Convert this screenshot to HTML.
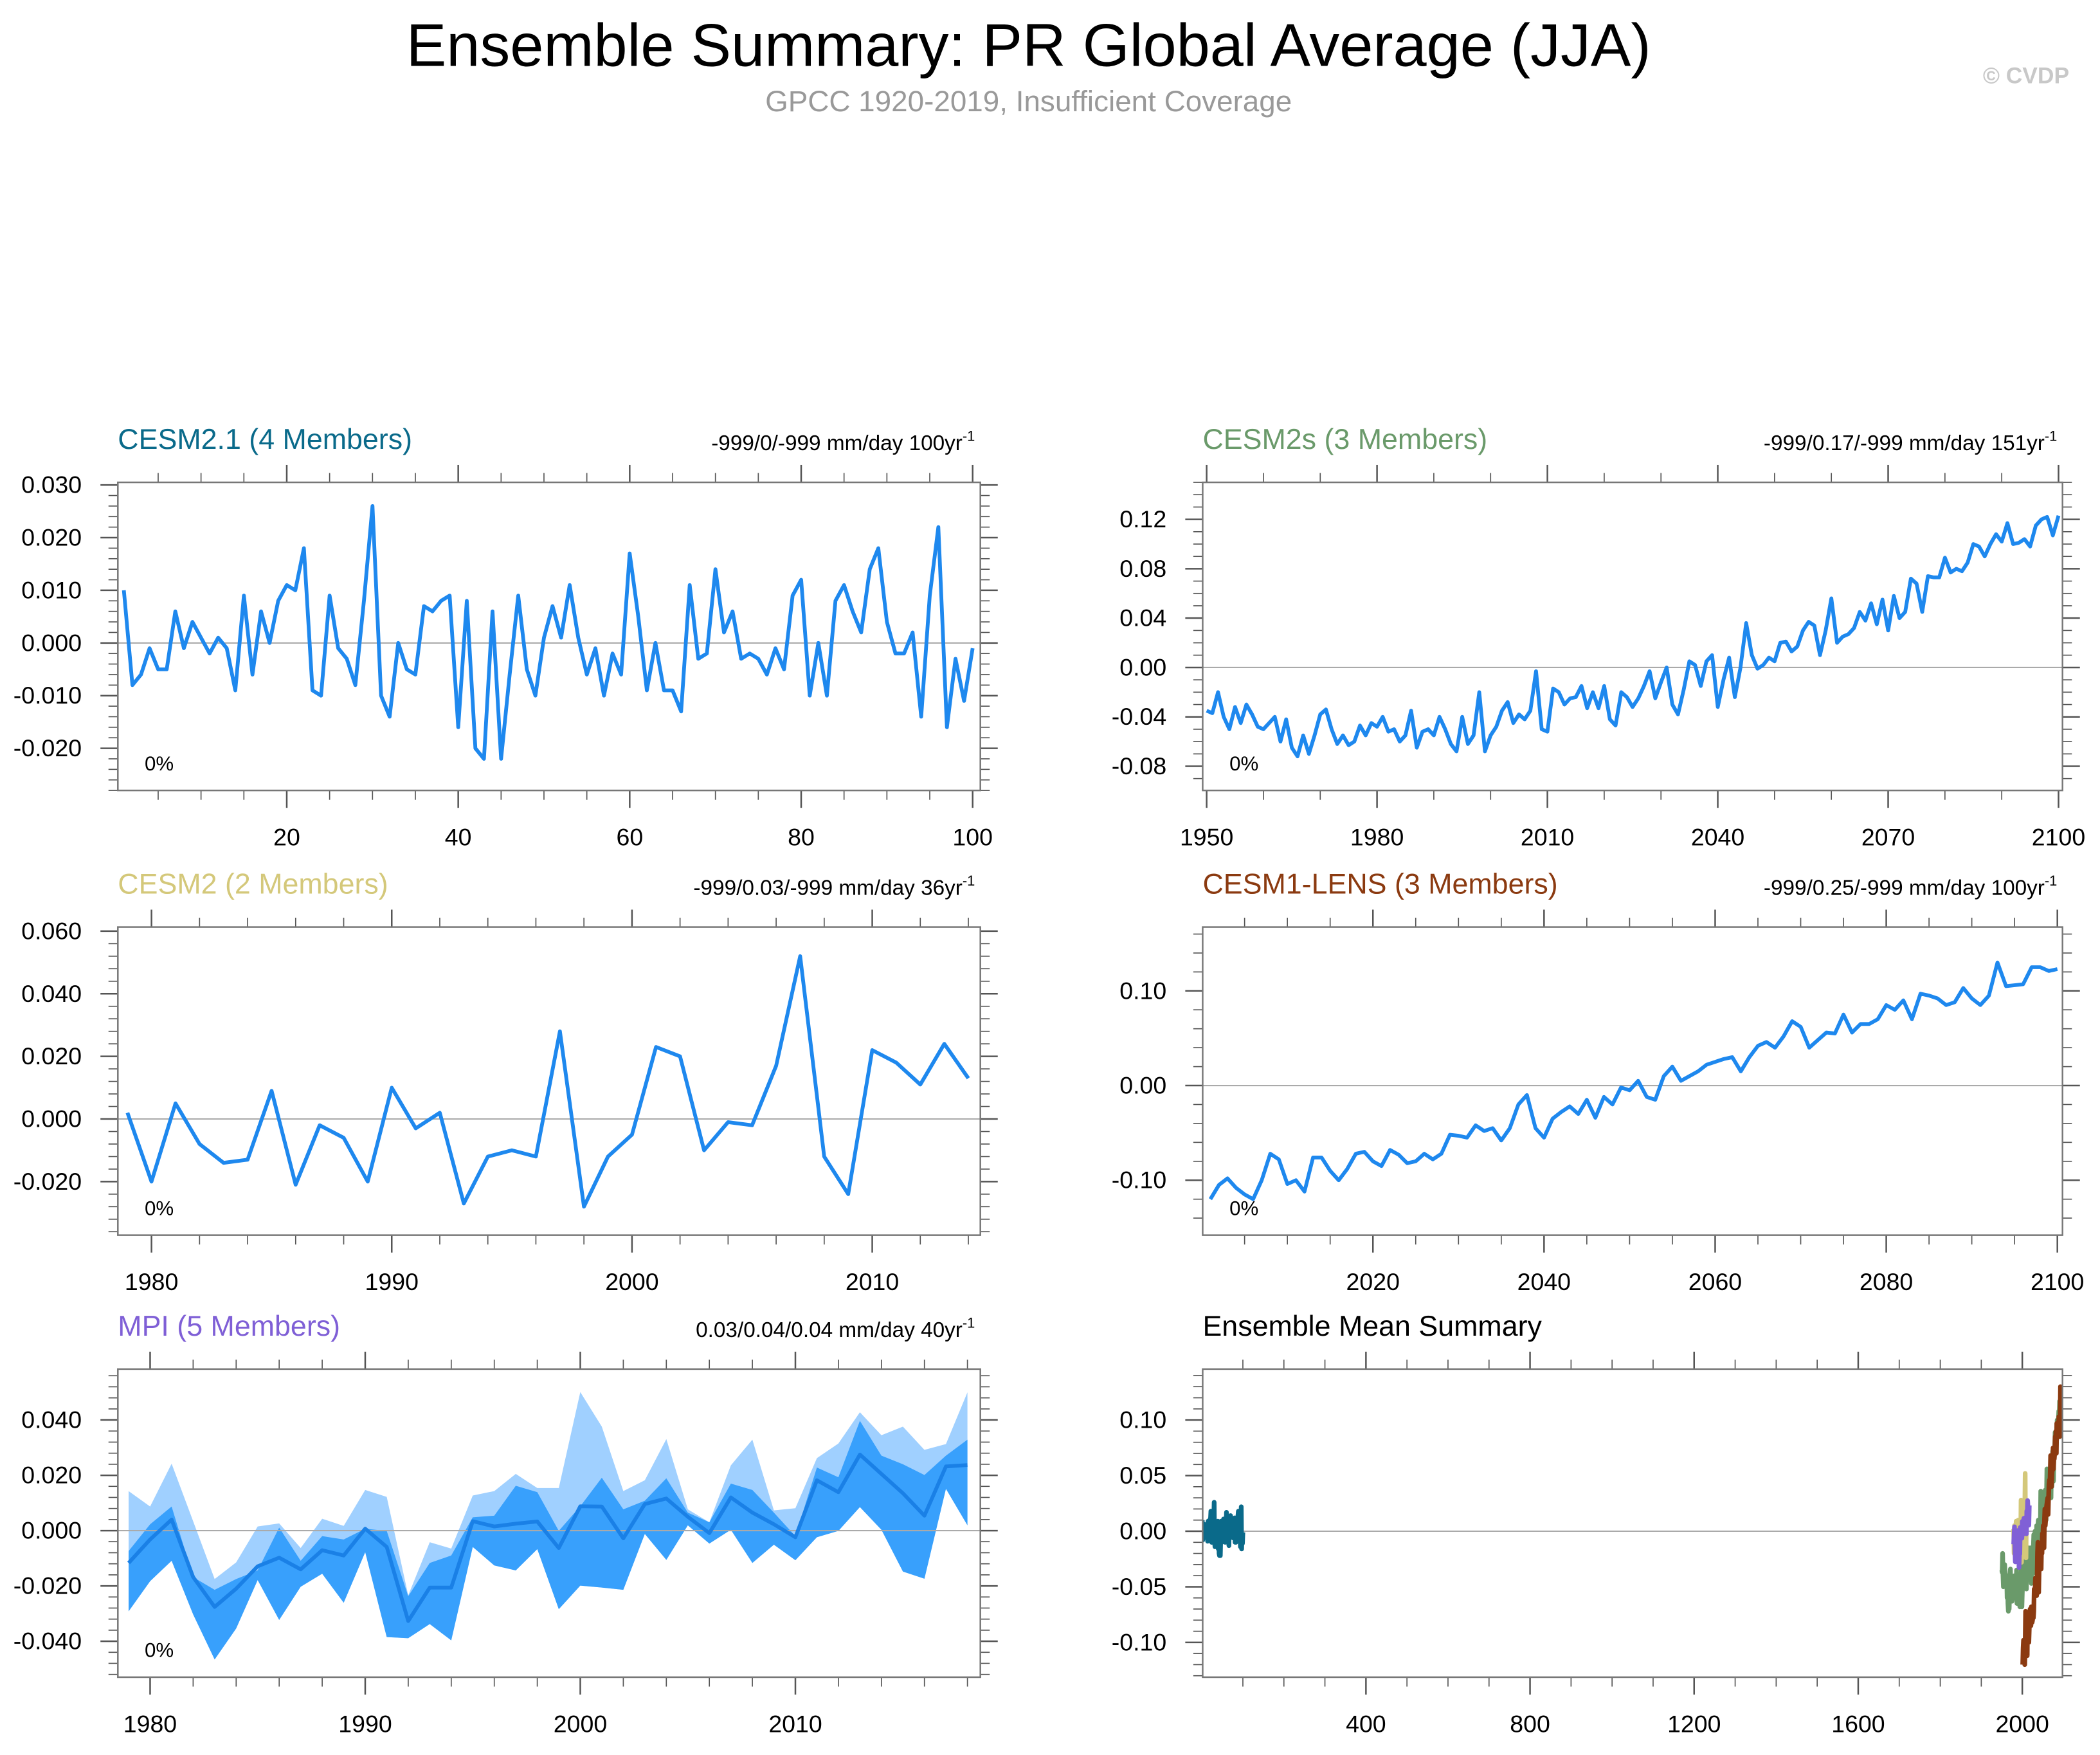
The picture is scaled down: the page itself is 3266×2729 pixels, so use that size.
<!DOCTYPE html>
<html><head><meta charset="utf-8"><style>
html,body{margin:0;padding:0;background:#fff}
svg{display:block}
text{font-family:"Liberation Sans",Arial,sans-serif}
</style></head><body>
<svg id="chart" width="3266" height="2729" viewBox="0 0 1568 1310" xmlns="http://www.w3.org/2000/svg">
<text x="768" y="49" font-size="45" text-anchor="middle" fill="#000">Ensemble Summary: PR Global Average (JJA)</text>
<text x="768" y="83" font-size="22" text-anchor="middle" fill="#999">GPCC 1920-2019, Insufficient Coverage</text>
<text x="1545" y="62" font-size="17" font-weight="bold" text-anchor="end" fill="#c8c8c8">© CVDP</text>
</svg>
<script>
const cesm21Values=[0.010,-0.008,-0.006,-0.001,-0.005,-0.005,0.006,-0.001,0.004,0.001,-0.002,0.001,-0.001,-0.009,0.009,-0.006,0.006,0.000,0.008,0.011,0.010,0.018,-0.009,-0.010,0.009,-0.001,-0.003,-0.008,0.008,0.026,-0.010,-0.014,0.000,-0.005,-0.006,0.007,0.006,0.008,0.009,-0.016,0.008,-0.020,-0.022,0.006,-0.022,-0.006,0.009,-0.005,-0.010,0.001,0.007,0.001,0.011,0.001,-0.006,-0.001,-0.010,-0.002,-0.006,0.017,0.005,-0.009,0.000,-0.009,-0.009,-0.013,0.011,-0.003,-0.002,0.014,0.002,0.006,-0.003,-0.002,-0.003,-0.006,-0.001,-0.005,0.009,0.012,-0.010,0.000,-0.010,0.008,0.011,0.006,0.002,0.014,0.018,0.004,-0.002,-0.002,0.002,-0.014,0.009,0.022,-0.016,-0.003,-0.011,-0.001];
const cesm21Start=1;
const cesm2sValues=[-0.035,-0.037,-0.020,-0.040,-0.050,-0.032,-0.045,-0.030,-0.038,-0.048,
-0.050,-0.045,-0.040,-0.060,-0.042,-0.065,-0.072,-0.055,-0.070,-0.055,
-0.038,-0.034,-0.050,-0.062,-0.055,-0.063,-0.060,-0.047,-0.055,-0.045,
-0.048,-0.040,-0.052,-0.050,-0.060,-0.055,-0.035,-0.065,-0.052,-0.050,
-0.055,-0.040,-0.050,-0.062,-0.068,-0.040,-0.062,-0.055,-0.020,-0.068,
-0.055,-0.048,-0.035,-0.028,-0.045,-0.038,-0.042,-0.035,-0.003,-0.050,
-0.052,-0.017,-0.020,-0.030,-0.025,-0.024,-0.015,-0.033,-0.020,-0.033,
-0.015,-0.042,-0.047,-0.020,-0.024,-0.032,-0.025,-0.015,-0.003,-0.025,
-0.012,0.000,-0.030,-0.038,-0.018,0.005,0.002,-0.015,0.005,0.010,
-0.032,-0.010,0.008,-0.024,0.000,0.036,0.010,-0.001,0.002,0.008,
0.005,0.020,0.021,0.013,0.017,0.030,0.037,0.034,0.010,0.030,
0.056,0.020,0.025,0.027,0.032,0.045,0.038,0.052,0.035,0.055,
0.030,0.058,0.040,0.045,0.072,0.068,0.045,0.074,0.073,0.073,
0.089,0.077,0.080,0.078,0.085,0.100,0.098,0.090,0.100,0.108,
0.102,0.117,0.100,0.101,0.104,0.098,0.115,0.120,0.122,0.107,0.123];
const cesm2sStart=1950;
const cesm2Values=[0.002,-0.020,0.005,-0.008,-0.014,-0.013,0.009,-0.021,-0.002,-0.006,-0.020,0.010,-0.003,0.002,-0.027,-0.012,-0.010,-0.012,0.028,-0.028,-0.012,-0.005,0.023,0.020,-0.010,-0.001,-0.002,0.017,0.052,-0.012,-0.024,0.022,0.018,0.011,0.024,0.013];
const cesm2Start=1979;
const lensValues=[-0.120,-0.105,-0.098,-0.108,-0.115,-0.120,-0.100,-0.072,-0.078,-0.104,
-0.100,-0.112,-0.076,-0.076,-0.090,-0.100,-0.088,-0.072,-0.070,-0.080,
-0.085,-0.068,-0.073,-0.082,-0.080,-0.072,-0.078,-0.072,-0.052,-0.053,
-0.055,-0.042,-0.048,-0.045,-0.058,-0.045,-0.020,-0.010,-0.045,-0.055,
-0.035,-0.028,-0.022,-0.030,-0.015,-0.034,-0.012,-0.020,-0.002,-0.005,
0.005,-0.012,-0.015,0.010,0.020,0.005,0.010,0.015,0.022,0.025,
0.028,0.030,0.015,0.030,0.042,0.046,0.040,0.052,0.068,0.062,
0.040,0.048,0.056,0.055,0.075,0.056,0.065,0.065,0.070,0.085,
0.080,0.090,0.070,0.097,0.095,0.092,0.085,0.088,0.103,0.092,
0.085,0.095,0.130,0.105,0.106,0.107,0.125,0.125,0.121,0.123];
const lensStart=2001;
const mpiMean=[-0.0117,-0.0032,0.0040,-0.0168,-0.0276,-0.0210,-0.0129,-0.0098,-0.0140,-0.0071,-0.0090,0.0007,-0.0059,-0.0327,-0.0206,-0.0206,0.0034,0.0015,0.0025,0.0033,-0.0063,0.0088,0.0087,-0.0028,0.0096,0.0116,0.0050,-0.0009,0.0120,0.0065,0.0023,-0.0024,0.0182,0.0139,0.0275,0.0205,0.0135,0.0054,0.0232,0.0237];
const mpiOuterMax=[0.0143,0.0087,0.0242,0.0034,-0.0175,-0.0115,0.0015,0.0026,-0.0063,0.0043,0.0017,0.0147,0.0122,-0.0234,-0.0042,-0.0065,0.0127,0.0143,0.0205,0.0154,0.0154,0.0501,0.0376,0.0143,0.0182,0.0331,0.0077,0.0030,0.0236,0.0329,0.0073,0.0081,0.0262,0.0315,0.0428,0.0345,0.0376,0.0292,0.0313,0.0500];
const mpiInnerMax=[-0.0074,0.0023,0.0087,-0.0168,-0.0214,-0.0175,-0.0144,0.0011,-0.0109,-0.0020,-0.0032,0.0007,-0.0001,-0.0237,-0.0117,-0.0090,0.0048,0.0054,0.0162,0.0139,-0.0001,0.0088,0.0191,0.0077,0.0108,0.0189,0.0065,0.0030,0.0170,0.0147,0.0065,-0.0020,0.0228,0.0193,0.0397,0.0271,0.0240,0.0201,0.0271,0.0329];
const mpiMin=[-0.0292,-0.0183,-0.0109,-0.0303,-0.0466,-0.0354,-0.0179,-0.0323,-0.0203,-0.0156,-0.0261,-0.0078,-0.0385,-0.0389,-0.0338,-0.0397,-0.0059,-0.0126,-0.0144,-0.0067,-0.0284,-0.0199,-0.0206,-0.0214,-0.0012,-0.0106,0.0019,-0.0047,0.0003,-0.0117,-0.0051,-0.0107,-0.0024,-0.0001,0.0085,0.0003,-0.0148,-0.0174,0.0151,0.0019];
const mpiStart=1979;

const svg=document.getElementById('chart');
const NS='http://www.w3.org/2000/svg';
function mk(tag,attrs,parent){const e=document.createElementNS(NS,tag);for(const k in attrs)e.setAttribute(k,attrs[k]);(parent||svg).appendChild(e);return e;}

function panel(cfg){
  const g=mk('g',{});
  
  
  const {x0,x1,y0,y1,xmin,xmax,ymin,ymax}=cfg;
  const sx=v=>x0+(v-xmin)/(xmax-xmin)*(x1-x0);
  const sy=v=>y1-(v-ymin)/(ymax-ymin)*(y1-y0);
  const t=mk('text',{x:x0,y:y0-25,'font-size':21.5,fill:cfg.titleColor},g);
  t.textContent=cfg.title;
  
  
  if(cfg.right){const r=mk('text',{x:x1-4,y:y0-24,'font-size':16,'text-anchor':'end',fill:'#000'},g);
    r.innerHTML=cfg.right+'<tspan font-size="10.5" dy="-7">-1</tspan>';
    
    }
  for(let v=Math.ceil(ymin/cfg.yminor-1e-6)*cfg.yminor;v<=ymax+1e-9;v+=cfg.yminor){
    const isMaj=Math.abs(v/cfg.ymajor-Math.round(v/cfg.ymajor))<1e-6;const L=isMaj?13:7;const y=sy(v);
    mk('line',{x1:x0-L,x2:x0,y1:y,y2:y,stroke:'#555','stroke-width':isMaj?1.2:0.8},g);
    mk('line',{x1:x1,x2:x1+L,y1:y,y2:y,stroke:'#555','stroke-width':isMaj?1.2:0.8},g);
    if(isMaj){const tl=mk('text',{x:x0-27,y:y+6,'font-size':18,'text-anchor':'end',fill:'#000'},g);
      tl.textContent=v.toFixed(cfg.ydec).replace(/^-0\.0+$/, (0).toFixed(cfg.ydec));
      
      }
  }
  for(let v=Math.ceil(xmin/cfg.xminor-1e-6)*cfg.xminor;v<=xmax+1e-9;v+=cfg.xminor){
    const isMaj=Math.abs(v/cfg.xmajor-Math.round(v/cfg.xmajor))<1e-6;const L=isMaj?13:7;const x=sx(v);
    mk('line',{x1:x,x2:x,y1:y0-L,y2:y0,stroke:'#555','stroke-width':isMaj?1.2:0.8},g);
    mk('line',{x1:x,x2:x,y1:y1,y2:y1+L,stroke:'#555','stroke-width':isMaj?1.2:0.8},g);
    if(isMaj&&(cfg.xskip===undefined||v>cfg.xskip)){const tl=mk('text',{x:x,y:y1+41,'font-size':18,'text-anchor':'middle',fill:'#000'},g);
      tl.textContent=String(Math.round(v));
      
      }
  }
  const clipId='c'+cfg.name;
  const cp=mk('clipPath',{id:clipId},g);mk('rect',{x:x0,y:y0,width:x1-x0,height:y1-y0},cp);
  const inner=mk('g',{'clip-path':'url(#'+clipId+')'},g);
  const zl=mk('line',{x1:x0,x2:x1,y1:sy(0),y2:sy(0),stroke:'#aaa','stroke-width':1},inner);
  return {g,inner,sx,sy,cfg,zl};
}
function line(p,vals,start,color,w,name){
  const d=vals.map((v,i)=>(i?'L':'M')+p.sx(start+i).toFixed(2)+','+p.sy(v).toFixed(2)).join('');
  const e=mk('path',{d,fill:'none',stroke:color,'stroke-width':w,'stroke-linejoin':'round'},p.inner);
  
  
}
function band(p,lo,hi,start,color,name){
  let d=hi.map((v,i)=>(i?'L':'M')+p.sx(start+i).toFixed(2)+','+p.sy(v).toFixed(2)).join('');
  for(let i=lo.length-1;i>=0;i--)d+='L'+p.sx(start+i).toFixed(2)+','+p.sy(lo[i]).toFixed(2);
  const e=mk('path',{d:d+'Z',fill:color,stroke:'none'},p.inner);
  
  
}
function frame(p,pct){
  const c=p.cfg;
  mk('rect',{x:c.x0,y:c.y0,width:c.x1-c.x0,height:c.y1-c.y0,fill:'none',stroke:'#777','stroke-width':1.2},p.g);
  if(pct){const t=mk('text',{x:c.x0+20,y:c.y1-15,'font-size':15,fill:'#000'},p.g);t.textContent='0%';
    
    }
}
const BLUE='#1e88ee';
const L=88,R=732,L2=898,R2=1540;
let p;
p=panel({name:'cesm21-panel',title:'CESM2.1 (4 Members)',titleColor:'#0a6a8a',right:'-999/0/-999 mm/day 100yr',x0:L,x1:R,y0:360,y1:590,xmin:0.3,xmax:100.9,ymin:-0.028,ymax:0.0305,xmajor:20,xminor:5,ymajor:0.01,yminor:0.002,ydec:3,xskip:0});
line(p,cesm21Values,cesm21Start,BLUE,2.8,'cesm21-line');frame(p,true);
p=panel({name:'cesm2s-panel',title:'CESM2s (3 Members)',titleColor:'#6a9a6a',right:'-999/0.17/-999 mm/day 151yr',x0:L2,x1:R2,y0:360,y1:590,xmin:1949.3,xmax:2100.7,ymin:-0.0996,ymax:0.150,xmajor:30,xminor:10,ymajor:0.04,yminor:0.01,ydec:2});
line(p,cesm2sValues,cesm2sStart,BLUE,2.8,'cesm2s-line');frame(p,true);
p=panel({name:'cesm2-panel',title:'CESM2 (2 Members)',titleColor:'#d4c87a',right:'-999/0.03/-999 mm/day 36yr',x0:L,x1:R,y0:692,y1:922,xmin:1978.6,xmax:2014.5,ymin:-0.0371,ymax:0.0613,xmajor:10,xminor:2,ymajor:0.02,yminor:0.004,ydec:3});
line(p,cesm2Values,cesm2Start,BLUE,2.8,'cesm2-line');frame(p,true);
p=panel({name:'cesm1-lens-panel',title:'CESM1-LENS (3 Members)',titleColor:'#8b3a10',right:'-999/0.25/-999 mm/day 100yr',x0:L2,x1:R2,y0:692,y1:922,xmin:2000.1,xmax:2100.6,ymin:-0.158,ymax:0.1674,xmajor:20,xminor:5,ymajor:0.1,yminor:0.02,ydec:2,xskip:2000});
line(p,lensValues,lensStart,BLUE,2.8,'cesm1-lens-line');frame(p,true);
p=panel({name:'mpi-panel',title:'MPI (5 Members)',titleColor:'#7f5fd6',right:'0.03/0.04/0.04 mm/day 40yr',x0:L,x1:R,y0:1022,y1:1252,xmin:1978.5,xmax:2018.6,ymin:-0.053,ymax:0.0584,xmajor:10,xminor:2,ymajor:0.02,yminor:0.004,ydec:3});
band(p,mpiMin,mpiOuterMax,mpiStart,'#a0d0ff','mpi-outer-band');
band(p,mpiMin,mpiInnerMax,mpiStart,'#38a0fc','mpi-inner-band');
p.inner.appendChild(p.zl);
line(p,mpiMean,mpiStart,'#1a80e6',2.8,'mpi-mean-line');frame(p,true);
p=panel({name:'ensemble-mean-panel',title:'Ensemble Mean Summary',titleColor:'#000',right:'',x0:L2,x1:R2,y0:1022,y1:1252,xmin:2,xmax:2098,ymin:-0.1313,ymax:0.1458,xmajor:400,xminor:100,ymajor:0.05,yminor:0.01,ydec:2,xskip:0});
line(p,cesm21Values,cesm21Start,'#0a6a8a',3.5,'mean-cesm21');
line(p,cesm2sValues,cesm2sStart,'#6a9a6a',3.5,'mean-cesm2s');
line(p,cesm2Values,cesm2Start,'#d4c87a',3.5,'mean-cesm2');
line(p,mpiMean,mpiStart,'#8060d6',3.5,'mean-mpi');
line(p,lensValues,lensStart,'#8b3a10',3.5,'mean-cesm1-lens');
frame(p,false);
</script>
</body></html>
